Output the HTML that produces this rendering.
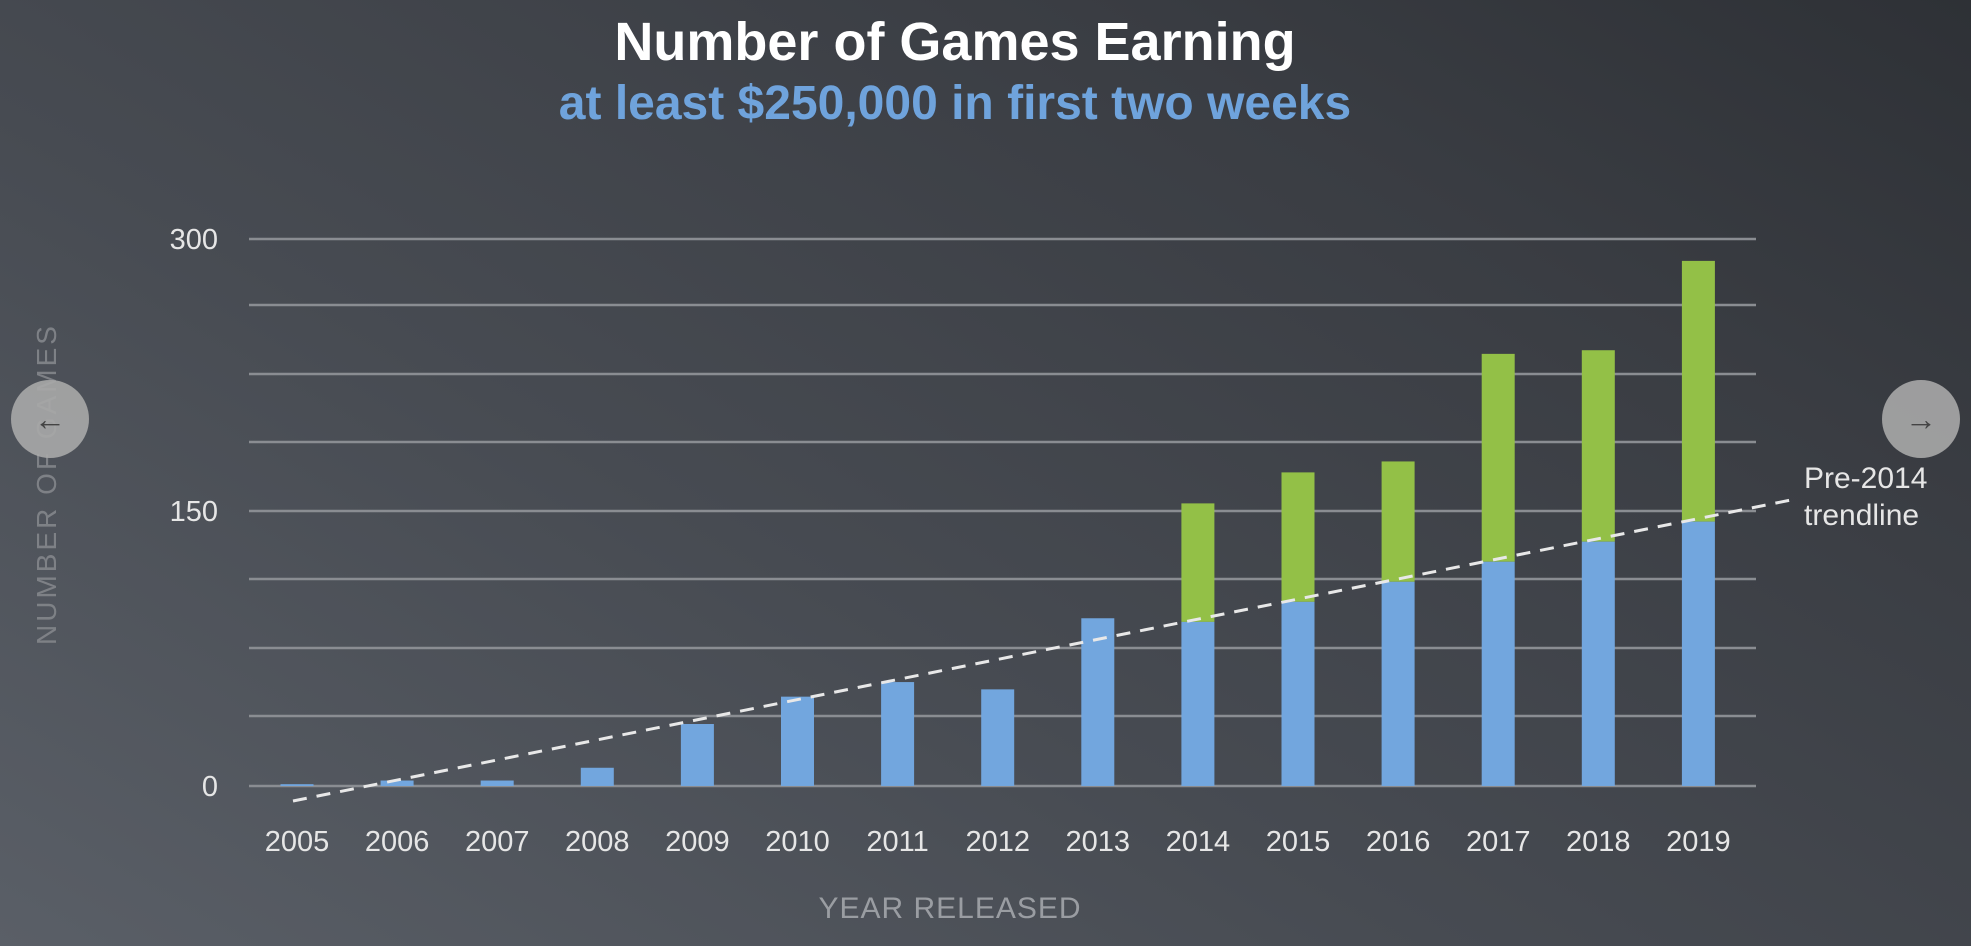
<!DOCTYPE html>
<html><head><meta charset="utf-8"><style>
html,body{margin:0;padding:0;}
body{width:1971px;height:946px;overflow:hidden;background:linear-gradient(30deg,#5a5f67 0%,#474b52 40%,#3a3d43 75%,#2e3136 100%);font-family:"Liberation Sans",sans-serif;}
</style></head><body>
<svg width="1971" height="946" xmlns="http://www.w3.org/2000/svg" style="position:absolute;left:0;top:0">
<g font-family="Liberation Sans, sans-serif" font-weight="bold" text-anchor="middle">
<text x="955" y="60" font-size="54" fill="#ffffff">Number of Games Earning</text>
<text x="955" y="119" font-size="48" fill="#6fa3dc">at least $250,000 in first two weeks</text>
</g>
<g stroke="#8a8d92" stroke-width="2.5">
<line x1="249" x2="1756" y1="239" y2="239"/>
<line x1="249" x2="1756" y1="305" y2="305"/>
<line x1="249" x2="1756" y1="374" y2="374"/>
<line x1="249" x2="1756" y1="442" y2="442"/>
<line x1="249" x2="1756" y1="511" y2="511"/>
<line x1="249" x2="1756" y1="579" y2="579"/>
<line x1="249" x2="1756" y1="648" y2="648"/>
<line x1="249" x2="1756" y1="716" y2="716"/>
<line x1="249" x2="1756" y1="786" y2="786"/>
</g>
<g font-size="29" fill="#e6e6e6" text-anchor="end">
<text x="218" y="249">300</text><text x="218" y="521">150</text><text x="218" y="796">0</text>
</g>
<g id="bars"></g>
<line x1="293" y1="801" x2="1791" y2="500" stroke="#e8e8e8" stroke-width="3" stroke-dasharray="14,10"/>
<g font-size="30" fill="#e6e6e6">
<text x="1804" y="488">Pre-2014</text><text x="1804" y="525">trendline</text>
</g>
<g font-size="29" fill="#e6e6e6" text-anchor="middle" id="xl"></g>
<text x="950" y="918" font-size="30" fill="#9a9da2" text-anchor="middle" letter-spacing="1">YEAR RELEASED</text>
<text transform="translate(56,484) rotate(-90)" font-size="28" fill="#7e8186" text-anchor="middle" letter-spacing="3">NUMBER OF GAMES</text>
<circle cx="50" cy="419" r="39" fill="#a9a9a9" opacity="0.9"/>
<text x="50" y="430" font-size="32" fill="#444" text-anchor="middle">←</text>
<circle cx="1921" cy="419" r="39" fill="#a9a9a9" opacity="0.9"/>
<text x="1921" y="430" font-size="32" fill="#444" text-anchor="middle">→</text>
</svg>
<script>
var blue=[1,3,3,10,34,49,57,53,92,90,101,112,123,134,145];
var tot=[1,3,3,10,34,49,57,53,92,155,172,178,237,239,288];
var s='',l='',k=547/300;
for(var i=0;i<15;i++){var cx=297+i*100.1,x=cx-16.5;
var yb=786-blue[i]*k,yt=786-tot[i]*k;
if(tot[i]>blue[i])s+='<rect x="'+x+'" y="'+yt+'" width="33" height="'+(yb-yt)+'" fill="#93c047"/>';
s+='<rect x="'+x+'" y="'+yb+'" width="33" height="'+(786-yb)+'" fill="#72a6de"/>';
l+='<text x="'+cx+'" y="851">'+(2005+i)+'</text>';}
document.getElementById('bars').innerHTML=s;document.getElementById('xl').innerHTML=l;
</script>
</body></html>
